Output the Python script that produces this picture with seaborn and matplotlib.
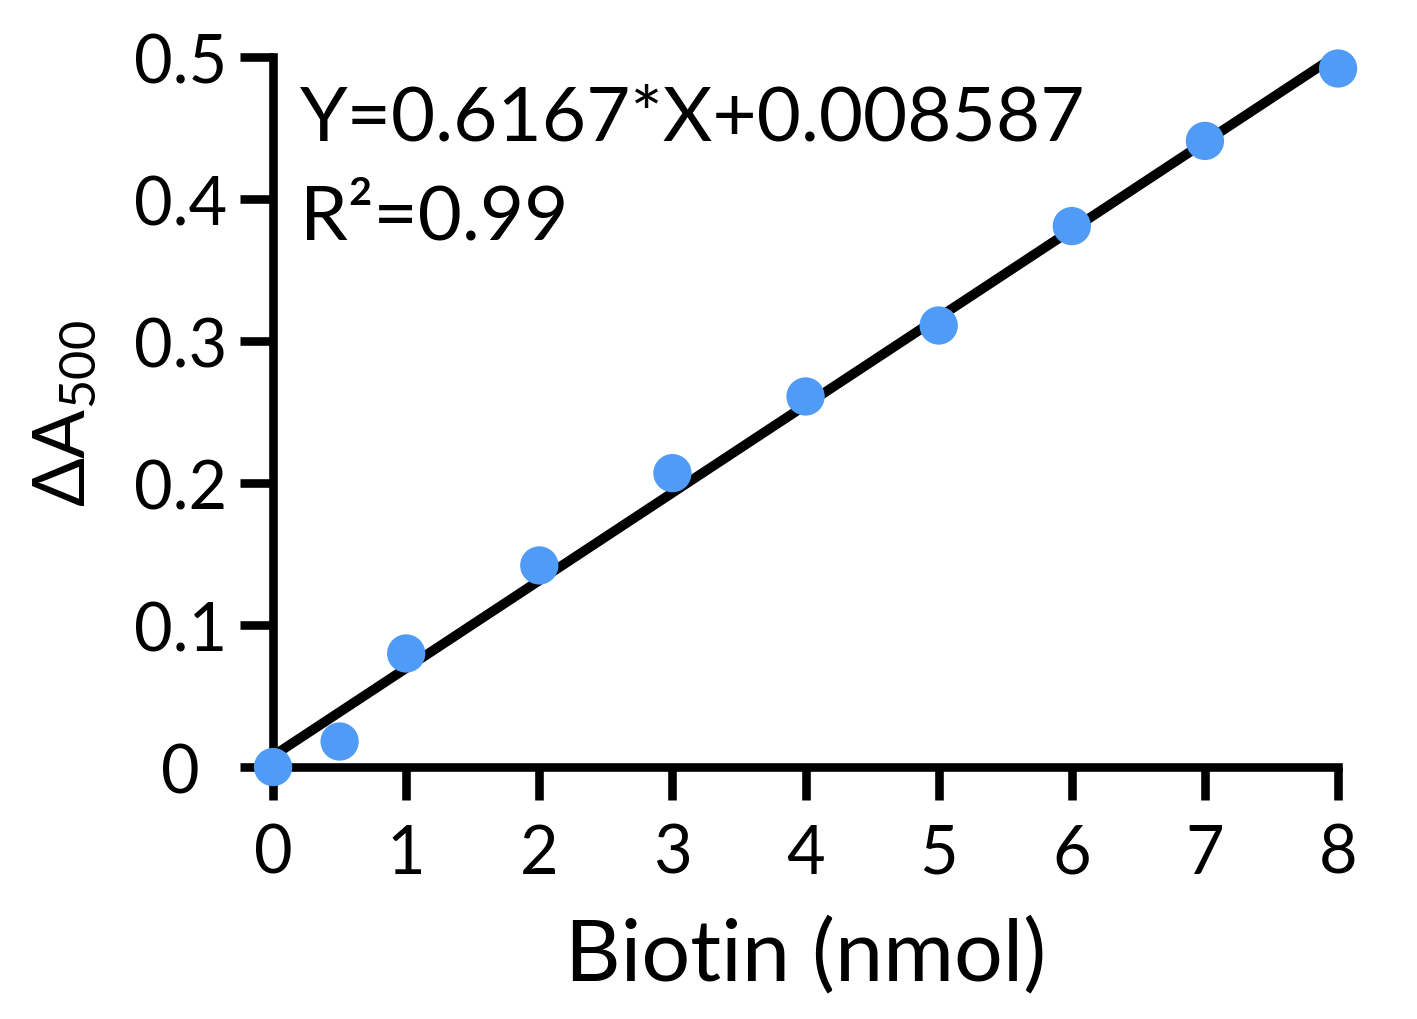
import matplotlib
matplotlib.use("Agg")
import matplotlib.pyplot as plt
import matplotlib.transforms as mtransforms
import numpy as np
import pandas as pd
import seaborn as sns

# standard curve readings
biotin_nmol = [0, 0.5, 1, 2, 3, 4, 5, 6, 7, 8]
delta_a500 = [0.0, 0.018, 0.080, 0.142, 0.207, 0.261, 0.311, 0.381, 0.441, 0.492]

x_ticks = [0, 1, 2, 3, 4, 5, 6, 7, 8]
y_ticks = [0, 0.1, 0.2, 0.3, 0.4, 0.5]
y_tick_labels = ["0", "0.1", "0.2", "0.3", "0.4", "0.5"]

equation_text = "Y=0.6167*X+0.008587"
r2_text = "R\u00b2=0.99"

df = pd.DataFrame({"biotin": biotin_nmol, "a500": delta_a500})

sns.set_style("white")
plt.rcParams["font.family"] = ["Lato", "DejaVu Sans"]
plt.rcParams["mathtext.fontset"] = "custom"
plt.rcParams["mathtext.rm"] = "Lato"
plt.rcParams["text.color"] = "black"
plt.rcParams["axes.labelcolor"] = "black"

fig = plt.figure(figsize=(14.17, 10.20), dpi=100)
ax = fig.add_axes([0.1927, 0.247, 0.7516, 0.696])

# fitted line
sns.regplot(data=df, x="biotin", y="a500", ax=ax, ci=None, scatter=False,
            line_kws={"color": "black", "linewidth": 7, "solid_capstyle": "butt"})
# points
sns.scatterplot(data=df, x="biotin", y="a500", ax=ax, color="#4f9bf5",
                s=760, edgecolor="none", linewidth=0, zorder=5, clip_on=False)

ax.set_xlim(0, 8)
ax.set_ylim(0, 0.5)
ax.set_xticks(x_ticks)
ax.set_xticklabels([str(t) for t in x_ticks])
ax.set_yticks(y_ticks)
ax.set_yticklabels(y_tick_labels)

for side in ["top", "right"]:
    ax.spines[side].set_visible(False)
for side in ["left", "bottom"]:
    ax.spines[side].set_linewidth(6.2)
    ax.spines[side].set_color("black")
    ax.spines[side].set_capstyle("projecting")

ax.tick_params(axis="both", direction="out", length=24, width=6.2, color="black",
               labelsize=48, labelcolor="black", bottom=True, left=True)
ax.tick_params(axis="x", pad=16)
ax.tick_params(axis="y", pad=9)

# the bare "0" sits a bit left of the others
zero_lbl = ax.get_yticklabels()[0]
zero_lbl.set_transform(zero_lbl.get_transform() +
                       mtransforms.ScaledTranslation(-0.28, 0, fig.dpi_scale_trans))

ax.set_xlabel("Biotin (nmol)", fontsize=62, labelpad=22)
ax.set_ylabel(r"ΔA$_{\mathregular{500}}$", fontsize=52, labelpad=26)

ax.text(0.2, 0.442, equation_text, fontsize=55, ha="left", va="baseline")
ax.text(0.2, 0.372, r2_text, fontsize=55, ha="left", va="baseline")

fig.savefig("out.png", dpi=100)
